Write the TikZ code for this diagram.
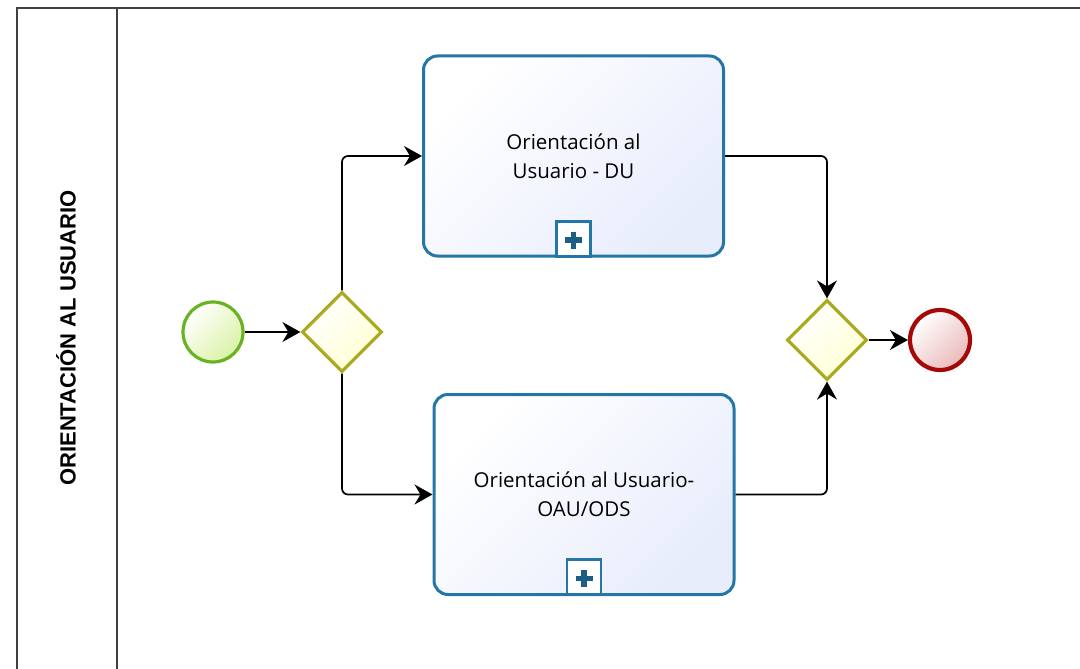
\documentclass[tikz,border=0pt]{standalone}
\usepackage{fontspec}
\setmainfont{Open Sans}
\newfontfamily\lanefont{Liberation Sans}
\usepackage{tikz}
\usetikzlibrary{shapes,arrows.meta,positioning}
\definecolor{poolgray}{RGB}{64,64,64}
\definecolor{taskblue}{RGB}{36,118,166}
\definecolor{taskfill}{RGB}{232,237,252}
\definecolor{startgreen}{RGB}{104,178,36}
\definecolor{startfill}{RGB}{218,242,165}
\definecolor{gateolive}{RGB}{170,170,32}
\definecolor{gatefill}{RGB}{255,255,212}
\definecolor{endred}{RGB}{166,8,8}
\definecolor{endfill}{RGB}{234,185,185}

\begin{document}
\begin{tikzpicture}[
    x=1pt, y=-1pt,
    start/.style={circle, draw=startgreen, line width=3.2pt, top color=white, bottom color=startfill, shading angle=45, minimum size=60pt, inner sep=0pt},
    finish/.style={circle, draw=endred, line width=4.2pt, top color=white, bottom color=endfill, shading angle=45, minimum size=60pt, inner sep=0pt},
    gate/.style={diamond, draw=gateolive, line width=3.2pt, top color=white, bottom color=gatefill, shading angle=45, minimum width=80pt, minimum height=80pt, inner sep=0pt},
    task/.style={rectangle, rounded corners=14pt, draw=taskblue, line width=3pt, top color=white, bottom color=taskfill, shading angle=45, minimum width=300pt, minimum height=200pt, align=center, font=\fontsize{20.5}{29}\selectfont},
    subm/.style={rectangle, draw=taskblue, line width=2.6pt, fill=white, minimum width=34pt, minimum height=35pt, inner sep=0pt},
    plusmark/.style={draw=taskblue!80!black, line width=5.5pt},
    flow/.style={draw=black, line width=1.7pt, rounded corners=6pt, -{Stealth[length=18pt, width=20pt, inset=6pt]}},
    lane/.style={draw=poolgray, line width=2.6pt}
]
\useasboundingbox (0,0) rectangle (1080,669);

% Pool and lane header
\draw[lane] (17,669) -- (17,8) -- (1080,8);
\draw[lane] (117,8) -- (117,669);
\node[rotate=90, font=\lanefont\bfseries\fontsize{22}{26}\selectfont] (lanename) at (66,338) {ORIENTACIÓN AL USUARIO};

% Events and gateways
\node[start] (ini) at (213,332) {};
\node[gate] (split) at (342,332) {};
\node[gate] (join) at (827,340) {};
\node[finish] (fin) at (940,340) {};

% Sub-processes
\node[task] (du) at (573.5,156) {Orientación al\\Usuario - DU};
\node[task] (oau) at (584,494.5) {Orientación al Usuario-\\OAU/ODS};

\node[subm, anchor=south] (plusdu) at (du.south) {};
\node[subm, anchor=south] (plusoau) at (oau.south) {};
\draw[plusmark] (plusdu.center) +(-8.5,1.5) -- +(8.5,1.5) +(0,-7) -- +(0,10);
\draw[plusmark] (plusoau.center) +(-8.5,1.5) -- +(8.5,1.5) +(0,-7) -- +(0,10);

% Sequence flows
\draw[flow] (ini) -- (split);
\draw[flow] (split.north) |- (du.west);
\draw[flow] (split.south) |- (oau.west);
\draw[flow] (du.east) -| (join.north);
\draw[flow] (oau.east) -| (join.south);
\draw[flow] (join) -- (fin);

\end{tikzpicture}
\end{document}
